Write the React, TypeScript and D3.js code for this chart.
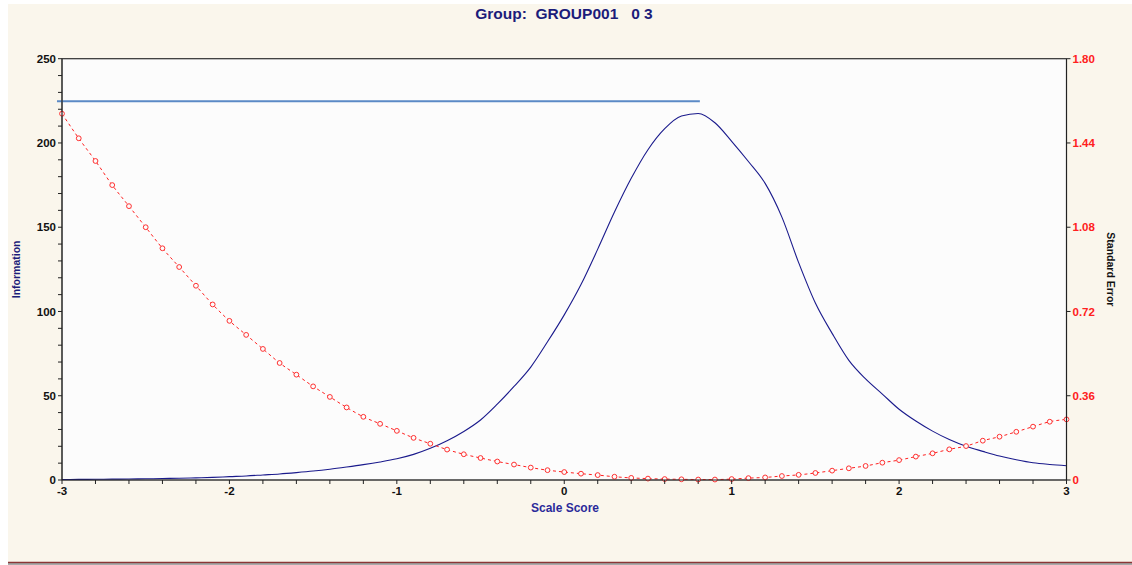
import React from "react";
import * as d3 from "d3";

const titleText = "Group:  GROUP001   0 3";
const xLabel = "Scale Score";
const yLeftLabel = "Information";
const yRightLabel = "Standard Error";

const scaleScores: number[] = d3.range(61).map((i) => Math.round((-3 + i * 0.1) * 10) / 10);

const information: number[] = [
  0.3, 0.35, 0.42, 0.5, 0.6, 0.72, 0.87, 1.05, 1.27, 1.55,
  2.0, 2.4, 3.0, 3.6, 4.4, 5.3, 6.4, 7.7, 9.1, 10.7,
  12.6, 15.2, 18.8, 23.3, 28.8, 35.6, 45, 55.5, 67, 82,
  98, 116, 137, 159, 179, 196, 208.5, 216, 217.5, 212,
  201, 189, 176, 156, 129, 105, 87, 71, 60, 51,
  42, 35, 29, 24, 20, 17, 14.2, 12, 10.2, 9.2,
  8.5,
];

const standardError: number[] = [
  1.565, 1.46, 1.363, 1.26, 1.17, 1.08, 0.99, 0.91, 0.83, 0.75,
  0.68, 0.62, 0.56, 0.5, 0.45, 0.4, 0.355, 0.31, 0.27, 0.24,
  0.21, 0.18, 0.155, 0.13, 0.11, 0.094, 0.079, 0.066, 0.053, 0.042,
  0.034, 0.027, 0.021, 0.014, 0.009, 0.006, 0.004, 0.003, 0.002, 0.002,
  0.004, 0.008, 0.011, 0.017, 0.022, 0.03, 0.04, 0.05, 0.06, 0.074,
  0.085, 0.1, 0.114, 0.131, 0.145, 0.168, 0.185, 0.206, 0.228, 0.249,
  0.259,
];

const refLineX: number[] = [-3.03, 0.81];
const refLineY: number[] = [224.7, 224.7];

const xTickLabels: number[] = [-3, -2, -1, 0, 1, 2, 3];
const xMinorTicks: number[] = d3.range(31).map((i) => -3 + i * 0.2);
const leftTickLabels: number[] = [0, 50, 100, 150, 200, 250];
const leftMinorTicks: number[] = d3.range(26).map((i) => i * 10);
const rightTickLabels: string[] = ["0", "0.36", "0.72", "1.08", "1.44", "1.80"];

const W = 1132;
const H = 565;
const FONT = "'Liberation Sans', Arial, sans-serif";

export default function App() {
  const x = d3.scaleLinear().domain([-3, 3]).range([62, 1066.5]);
  const yInfo = d3.scaleLinear().domain([0, 250]).range([480, 58.7]);
  const ySE = d3.scaleLinear().domain([0, 1.8]).range([480, 58.7]);

  const infoPts: [number, number][] = scaleScores.map((s, i) => [s, information[i]]);
  const sePts: [number, number][] = scaleScores.map((s, i) => [s, standardError[i]]);

  const infoLine = d3
    .line<[number, number]>()
    .x((d) => x(d[0]))
    .y((d) => yInfo(d[1]))
    .curve(d3.curveMonotoneX);
  const seLine = d3
    .line<[number, number]>()
    .x((d) => x(d[0]))
    .y((d) => ySE(d[1]))
    .curve(d3.curveMonotoneX);

  const [x0, x1] = x.range();
  const yTop = yInfo(250);
  const yBot = yInfo(0);

  return (
    <svg
      width={W}
      height={H}
      style={{ position: "absolute", left: 0, top: 0, display: "block" }}
      fontFamily={FONT}
    >
      <rect x={0} y={0} width={W} height={H} fill="#ffffff" />
      <rect x={8} y={4} width={W - 8} height={558} fill="#FAF6EC" />
      <line x1={8} x2={W} y1={562.5} y2={562.5} stroke="#8B3535" strokeWidth={1.5} />
      <line x1={8} x2={W} y1={564} y2={564} stroke="#555" strokeWidth={1} />

      <text
        x={564}
        y={19}
        textAnchor="middle"
        fontSize={15.5}
        fontWeight="bold"
        fill="#1C1C7A"
        style={{ whiteSpace: "pre" }}
      >
        {titleText}
      </text>

      {/* plot area */}
      <rect x={x0} y={yTop} width={x1 - x0} height={yBot - yTop} fill="#FCFCFC" stroke="#666" strokeWidth={1} />
      <line x1={x0} x2={x1} y1={yTop} y2={yTop} stroke="#333" strokeWidth={1} />

      {/* reference line */}
      <line
        x1={x(refLineX[0])}
        x2={x(refLineX[1])}
        y1={yInfo(refLineY[0])}
        y2={yInfo(refLineY[1])}
        stroke="#5B8AC6"
        strokeWidth={2}
      />

      {/* information curve */}
      <path d={infoLine(infoPts) || ""} fill="none" stroke="#1A1A8C" strokeWidth={1.1} />

      {/* standard error curve */}
      <path d={seLine(sePts) || ""} fill="none" stroke="#FF2020" strokeWidth={1} strokeDasharray="3,3" />
      {sePts.map((d, i) => (
        <circle key={i} cx={x(d[0])} cy={ySE(d[1])} r={2.4} fill="#FCFCFC" stroke="#FF3030" strokeWidth={1} />
      ))}

      {/* left axis */}
      <line x1={x0} x2={x0} y1={yTop} y2={yBot} stroke="#222" strokeWidth={1.2} />
      {leftMinorTicks.map((t) => (
        <line key={t} x1={x0 - 4} x2={x0} y1={yInfo(t)} y2={yInfo(t)} stroke="#222" />
      ))}
      {leftTickLabels.map((t) => (
        <text
          key={t}
          x={x0 - 6}
          y={yInfo(t)}
          dy="0.35em"
          textAnchor="end"
          fontSize={11.5}
          fontWeight="bold"
          fill="#111"
        >
          {t}
        </text>
      ))}
      <text
        transform={`translate(20,${(yTop + yBot) / 2}) rotate(-90)`}
        textAnchor="middle"
        fontSize={10.5}
        fontWeight="bold"
        fill="#1C1C7A"
      >
        {yLeftLabel}
      </text>

      {/* right axis */}
      <line x1={x1} x2={x1} y1={yTop} y2={yBot} stroke="#222" strokeWidth={1.2} />
      {rightTickLabels.map((t) => (
        <g key={t}>
          <line x1={x1} x2={x1 + 4} y1={ySE(+t)} y2={ySE(+t)} stroke="#222" />
          <text
            x={x1 + 6}
            y={ySE(+t)}
            dy="0.35em"
            textAnchor="start"
            fontSize={11.5}
            fontWeight="bold"
            fill="#FF2020"
          >
            {t}
          </text>
        </g>
      ))}
      <text
        transform={`translate(1107,${(yTop + yBot) / 2}) rotate(90)`}
        textAnchor="middle"
        fontSize={10.5}
        fontWeight="bold"
        fill="#111"
      >
        {yRightLabel}
      </text>

      {/* x axis */}
      <line x1={x0} x2={x1} y1={yBot} y2={yBot} stroke="#222" strokeWidth={1.2} />
      {xMinorTicks.map((t, i) => (
        <line key={i} x1={x(t)} x2={x(t)} y1={yBot} y2={yBot + 4} stroke="#222" />
      ))}
      {xTickLabels.map((t) => (
        <text
          key={t}
          x={x(t)}
          y={yBot + 15}
          textAnchor="middle"
          fontSize={11.5}
          fontWeight="bold"
          fill="#111"
        >
          {t}
        </text>
      ))}
      <text x={565} y={512} textAnchor="middle" fontSize={12} fontWeight="bold" fill="#2A2A9A">
        {xLabel}
      </text>
    </svg>
  );
}
